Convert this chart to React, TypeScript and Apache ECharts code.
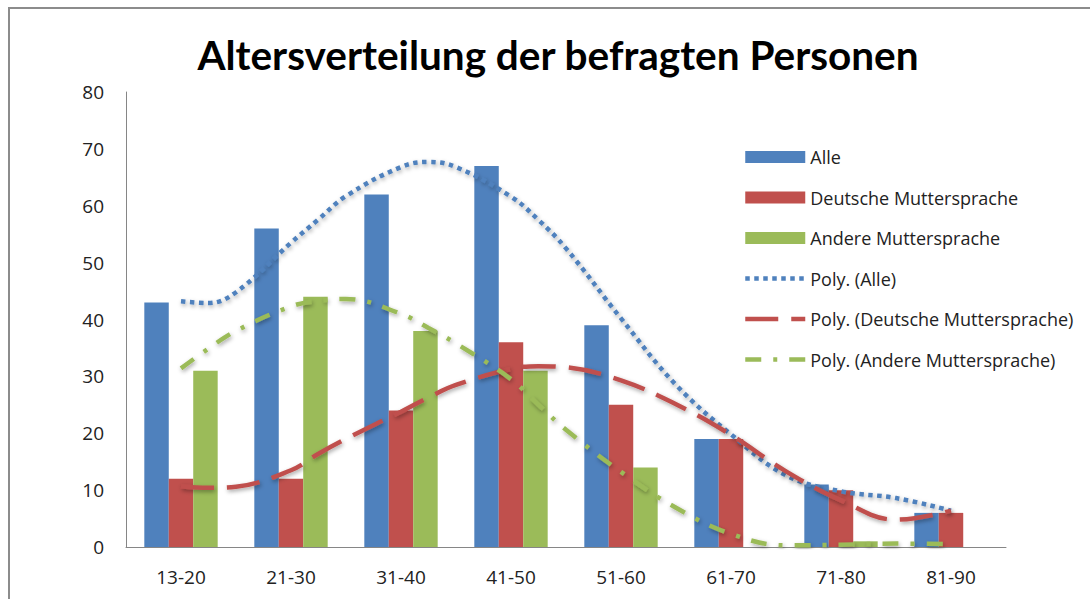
import React, { useEffect, useRef } from "react";
import * as echarts from "echarts";

const categories = ["13-20", "21-30", "31-40", "41-50", "51-60", "61-70", "71-80", "81-90"];
const alle = [43, 56, 62, 67, 39, 19, 11, 6];
const deutsche = [12, 12, 24, 36, 25, 19, 10, 6];
const andere = [31, 44, 38, 31, 14, 0, 1, 0];

// trendline positions (1 = first category centre) and values
const trendX = [1, 1.25, 1.5, 2, 2.25, 2.5, 3, 3.25, 3.5, 4, 4.25, 4.5, 5, 5.5, 6, 6.5, 7, 7.5, 8];
const polyAlle = [43.2, 42.9, 44.8, 53.5, 57.6, 61.7, 66.8, 67.7, 66.8, 61.6, 57.5, 52.5, 40.2, 28.5, 19.8, 12.6, 9.8, 8.6, 6.4];
const polyDeutsche = [10.7, 10.4, 10.6, 13.5, 16.4, 19.0, 23.8, 26.3, 28.5, 31.3, 31.8, 31.6, 29.3, 25.1, 19.7, 13.3, 8.2, 4.8, 6.4];
const polyAndere = [31.4, 34.9, 38.0, 42.3, 43.3, 43.6, 41.0, 38.5, 35.8, 29.5, 25.0, 20.6, 13.2, 6.9, 2.3, 0.3, 0.4, 0.6, 0.5];

const BLUE = "#4F81BD";
const RED = "#C0504D";
const GREEN = "#9BBB59";
const FONT = "'Open Sans', sans-serif";

const pairs = (ys: number[]) => trendX.map((x, i) => [x, ys[i]]);

export default function App() {
  const ref = useRef<HTMLDivElement>(null);
  useEffect(() => {
    if (!ref.current) return;
    const chart = echarts.init(ref.current, undefined, { renderer: "svg" });
    const shadow = {
      shadowBlur: 4,
      shadowColor: "rgba(0,0,0,0.35)",
      shadowOffsetX: 1,
      shadowOffsetY: 2,
    };
    const hiddenSymbol = { opacity: 0, borderWidth: 0 };
    const legendLine = { width: 4.5 };
    chart.setOption({
      animation: false,
      backgroundColor: "#ffffff",
      title: {
        text: "Altersverteilung der befragten Personen",
        left: 553,
        top: 29,
        textAlign: "center",
        textStyle: { fontFamily: "Lato, sans-serif", fontWeight: "bold", fontSize: 40.5, color: "#000" },
      },
      graphic: [
        {
          type: "rect",
          shape: { x: 9, y: 8, width: 1200, height: 700 },
          style: { fill: "none", stroke: "#8c8c8c", lineWidth: 2 },
          silent: true,
          z: 100,
        },
      ],
      grid: { left: 126, right: 84, top: 92, bottom: 52, containLabel: false },
      legend: {
        orient: "vertical",
        left: 738,
        top: 143,
        itemGap: 22.5,
        itemWidth: 60,
        itemHeight: 12,
        textStyle: { fontFamily: FONT, fontSize: 18, color: "#222" },
        data: [
          { name: "Alle", icon: "rect" },
          { name: "Deutsche Muttersprache", icon: "rect" },
          { name: "Andere Muttersprache", icon: "rect" },
          { name: "Poly. (Alle)", itemStyle: hiddenSymbol, lineStyle: legendLine },
          { name: "Poly. (Deutsche Muttersprache)", itemStyle: hiddenSymbol, lineStyle: legendLine },
          { name: "Poly. (Andere Muttersprache)", itemStyle: hiddenSymbol, lineStyle: legendLine },
        ],
      },
      xAxis: [
        {
          type: "category",
          data: categories,
          axisLine: { lineStyle: { color: "#868686", width: 1 } },
          axisTick: { show: false },
          axisLabel: { fontFamily: FONT, fontSize: 19, color: "#222", margin: 20 },
        },
        {
          type: "value",
          min: 0.5,
          max: 8.5,
          show: false,
        },
      ],
      yAxis: {
        type: "value",
        min: 0,
        max: 80,
        interval: 10,
        splitLine: { show: false },
        axisLine: { show: true, lineStyle: { color: "#868686", width: 1 } },
        axisTick: { show: false },
        axisLabel: { fontFamily: FONT, fontSize: 19, color: "#222", margin: 22 },
      },
      series: [
        {
          name: "Alle",
          type: "bar",
          data: alle,
          itemStyle: { color: BLUE },
          barGap: "0%",
          barCategoryGap: "33.3%",
        },
        { name: "Deutsche Muttersprache", type: "bar", data: deutsche, itemStyle: { color: RED } },
        { name: "Andere Muttersprache", type: "bar", data: andere, itemStyle: { color: GREEN } },
        {
          name: "Poly. (Alle)",
          type: "line",
          xAxisIndex: 1,
          data: pairs(polyAlle),
          smooth: 0.4,
          showSymbol: false,
          symbol: "none",
          itemStyle: { color: BLUE },
          lineStyle: { color: BLUE, width: 4.5, type: [4.5, 4.5], ...shadow },
          z: 5,
        },
        {
          name: "Poly. (Deutsche Muttersprache)",
          type: "line",
          xAxisIndex: 1,
          data: pairs(polyDeutsche),
          smooth: 0.4,
          showSymbol: false,
          symbol: "none",
          itemStyle: { color: RED },
          lineStyle: { color: RED, width: 4.5, type: [33, 13], ...shadow },
          z: 5,
        },
        {
          name: "Poly. (Andere Muttersprache)",
          type: "line",
          xAxisIndex: 1,
          data: pairs(polyAndere),
          smooth: 0.4,
          showSymbol: false,
          symbol: "none",
          itemStyle: { color: GREEN },
          lineStyle: { color: GREEN, width: 4.5, type: [16, 12, 4, 12], ...shadow },
          z: 5,
        },
      ],
    });
    return () => chart.dispose();
  }, []);
  return (
    <div
      ref={ref}
      style={{ position: "absolute", left: 0, top: 0, width: 1090, height: 599 }}
    />
  );
}
